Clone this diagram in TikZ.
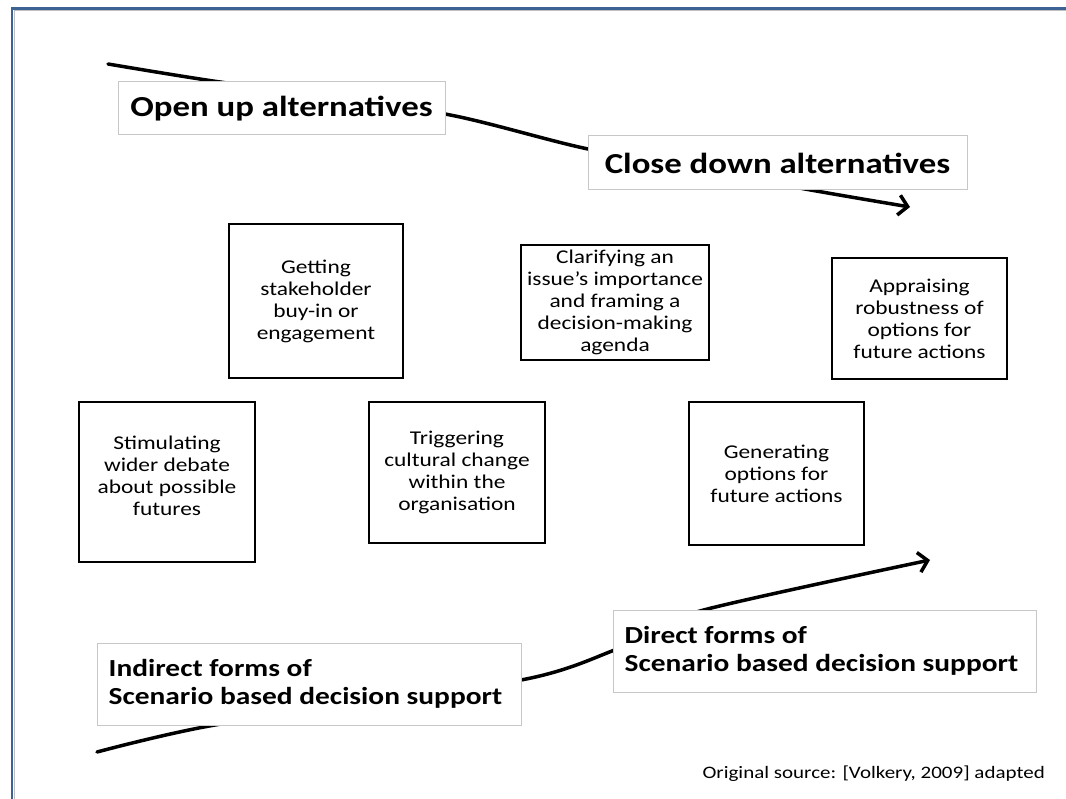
\documentclass[tikz,border=0pt]{standalone}
\usepackage{fontspec}
\setmainfont{Carlito}[FakeStretch=1.2]
\usetikzlibrary{arrows.meta}
\definecolor{framebl}{HTML}{3C6394}
\begin{document}
\begin{tikzpicture}[x=1pt,y=-1pt,
  lbl/.style={draw=black!22, line width=1pt, fill=white, inner sep=0pt,
    font=\bfseries\fontsize{29}{31}\selectfont},
  lblbox/.style={draw=black!22, line width=1pt, fill=white, inner sep=0pt},
  lbltxt/.style={inner sep=0pt, align=left, anchor=west,
    font=\bfseries\fontsize{24.5}{27.5}\selectfont},
  act/.style={draw=black, line width=2pt, fill=white, inner sep=2pt, align=center,
    font=\fontsize{19.5}{22}\selectfont},
  flow/.style={line width=3.5pt, line cap=round,
    -{Straight Barb[length=9pt,width=20pt,line width=3.5pt]}}
]
\useasboundingbox (0,0) rectangle (1066,799);
% frame
\draw[framebl, line width=2.6pt] (12,799) -- (12,8.5) -- (1066,8.5);
\draw[black!25, line width=0.8pt] (14.2,799) -- (14.2,10.7) -- (1066,10.7);
% arrows
\coordinate (ta) at (108,64);
\coordinate (tb) at (213,81);
\coordinate (tc) at (445,114);
\coordinate (td) at (588,149);
\coordinate (te) at (805,189);
\coordinate (tf) at (910,207);
\draw[flow] plot[smooth, tension=0.4] coordinates {(ta) (tb) (tc) (td) (te) (tf)};
\coordinate (ba) at (97,752);
\coordinate (bb) at (215,725);
\coordinate (bc) at (521,680);
\coordinate (bd) at (612,651);
\coordinate (be) at (700,611);
\coordinate (bf) at (930,560);
\draw[flow] plot[smooth, tension=0.4] coordinates {(ba) (bb) (bc) (bd) (be) (bf)};
% labels
\node[lbl, minimum width=327pt, minimum height=53pt] (open) at (281.5,108.5) {Open up alternatives};
\node[lbl, minimum width=379pt, minimum height=54pt] (close) at (777.5,163) {Close down alternatives};
\node[lblbox, minimum width=424pt, minimum height=82pt] (indirect) at (309,684) {};
\node[lbltxt] (indirecttxt) at ([xshift=12pt]indirect.west) {Indirect forms of\\Scenario based decision support};
\node[lblbox, minimum width=423pt, minimum height=82pt] (direct) at (824.5,651) {};
\node[lbltxt] (directtxt) at ([xshift=12pt]direct.west) {Direct forms of\\Scenario based decision support};
% activity boxes
\node[act, minimum width=176pt, minimum height=160pt, text depth=12pt] (a) at (167,482) {Stimulating\\wider debate\\about possible\\futures};
\node[act, minimum width=174pt, minimum height=154pt] (b) at (316,301) {Getting\\stakeholder\\buy-in or\\engagement};
\node[act, minimum width=176pt, minimum height=141pt] (c) at (457,472.5) {Triggering\\cultural change\\within the\\organisation};
\node[act, minimum width=188pt, minimum height=115pt] (d) at (615,302.5) {Clarifying an\\issue’s importance\\and framing a\\decision-making\\agenda};
\node[act, minimum width=175pt, minimum height=143pt] (e) at (776.5,473.5) {Generating\\options for\\future actions};
\node[act, minimum width=175pt, minimum height=121pt] (f) at (919.5,318.5) {Appraising\\robustness of\\options for\\future actions};
% source
\node[anchor=base east, inner sep=0pt, font=\fontsize{17.5}{20}\selectfont] (src) at (1045,778) {Original source: [Volkery, 2009] adapted};
\end{tikzpicture}
\end{document}
